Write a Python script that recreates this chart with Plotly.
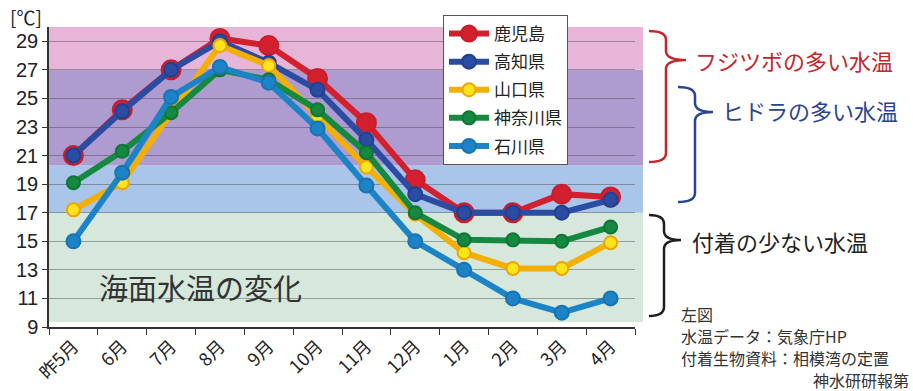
import plotly.graph_objects as go

# Monthly sea-surface temperature (°C), May of last year through April
months = ["昨5月", "6月", "7月", "8月", "9月", "10月", "11月", "12月", "1月", "2月", "3月", "4月"]
kagoshima = [21.0, 24.2, 27.0, 29.2, 28.7, 26.4, 23.3, 19.3, 17.0, 17.0, 18.3, 18.1]
kochi = [21.0, 24.1, 27.0, 29.0, 27.5, 25.6, 22.1, 18.3, 17.0, 17.0, 17.0, 17.9]
yamaguchi = [17.2, 19.1, 24.0, 28.7, 27.3, 23.8, 20.2, 16.9, 14.2, 13.1, 13.1, 14.9]
kanagawa = [19.1, 21.3, 24.0, 27.0, 26.3, 24.2, 21.2, 17.0, 15.1, 15.1, 15.0, 16.0]
ishikawa = [15.0, 19.8, 25.1, 27.2, 26.1, 22.9, 18.9, 15.0, 13.0, 11.0, 10.0, 11.0]

y_ticks = [9, 11, 13, 15, 17, 19, 21, 23, 25, 27, 29]

# Temperature bands (°C): barnacle range, hydroid range, low-fouling range
barnacle_band = (20.3, 30.0)
hydra_band = (17.0, 27.0)
low_band = (9.35, 17.0)

FONT = "Noto Sans CJK JP"
W, H = 913, 391
ML, MR, MT, MB = 49, 278, 27, 64
PW, PH = W - ML - MR, H - MT - MB
Y0, Y1 = 9, 30


def px_x(x):
    return (x - ML) / PW


def px_y(y):
    return (H - MB - y) / PH


def val_y(v):
    return (v - Y0) / (Y1 - Y0)


fig = go.Figure()

series = [
    ("鹿児島", kagoshima, "#D3202F", "#D3202F", "#C81E2C", 19),
    ("高知県", kochi, "#2A4CA3", "#2A4CA3", "#23408F", 14),
    ("山口県", yamaguchi, "#F3B000", "#FFE31C", "#EFA500", 13),
    ("神奈川県", kanagawa, "#14893F", "#14893F", "#107536", 13),
    ("石川県", ishikawa, "#1C83C7", "#1C83C7", "#1874B2", 14),
]
for i, (name, vals, lc, mc, mlc, ms) in enumerate(series):
    fig.add_trace(go.Scatter(
        x=months, y=vals, name=name, mode="lines+markers",
        legendgroup=str(i),
        line=dict(color=lc, width=6),
        marker=dict(color=mc, size=ms, line=dict(color=mlc, width=2)),
    ))

# Coloured temperature bands behind the grid
x_right = px_x(643)
bands = [
    (low_band[0], low_band[1], "#D6E8DC"),
    (hydra_band[0], barnacle_band[0], "#A9C5EA"),
    (barnacle_band[0], hydra_band[1], "#AE9BD0"),
    (hydra_band[1], barnacle_band[1], "#E7B5D8"),
]
shapes = []
for lo, hi, col in bands:
    shapes.append(dict(type="rect", xref="paper", yref="paper",
                       x0=0, x1=x_right, y0=val_y(lo), y1=val_y(hi),
                       fillcolor=col, line=dict(width=0), layer="below"))


def brace(x_end, x_spine, x_tip, y_top, y_tip, y_bot, color):
    r = 9
    pts = [
        ("M", [(x_end, y_top)]),
        ("Q", [(x_spine, y_top), (x_spine, y_top + r)]),
        ("L", [(x_spine, y_tip - r)]),
        ("Q", [(x_spine, y_tip), (x_tip, y_tip)]),
        ("Q", [(x_spine, y_tip), (x_spine, y_tip + r)]),
        ("L", [(x_spine, y_bot - r)]),
        ("Q", [(x_spine, y_bot), (x_end, y_bot)]),
    ]
    path = " ".join(
        cmd + " " + " ".join(f"{px_x(a):.5f},{px_y(b):.5f}" for a, b in p)
        for cmd, p in pts
    )
    return dict(type="path", xref="paper", yref="paper", path=path,
                line=dict(color=color, width=2.5), layer="above")


shapes.append(brace(649, 666, 686, 31, 60, 162, "#C4262E"))
shapes.append(brace(678, 695, 713, 87, 112, 202, "#2A4590"))
shapes.append(brace(649, 664, 681, 215, 240, 316, "#1E1E1E"))

annotations = [
    dict(text="[℃]", x=px_x(26), y=px_y(17), font=dict(size=19, color="#222")),
    dict(text="海面水温の変化", x=px_x(200), y=px_y(287), font=dict(size=29, color="#333")),
    dict(text="フジツボの多い水温", x=px_x(693), y=px_y(60), xanchor="left",
         font=dict(size=22, color="#C4262E")),
    dict(text="ヒドラの多い水温", x=px_x(720), y=px_y(110), xanchor="left",
         font=dict(size=22, color="#2A4590")),
    dict(text="付着の少ない水温", x=px_x(690), y=px_y(241), xanchor="left",
         font=dict(size=22, color="#222")),
    dict(text="左図", x=px_x(679), y=px_y(314), xanchor="left",
         font=dict(size=16, color="#333")),
    dict(text="水温データ：気象庁HP", x=px_x(679), y=px_y(336), xanchor="left",
         font=dict(size=16, color="#333")),
    dict(text="付着生物資料：相模湾の定置", x=px_x(679), y=px_y(358), xanchor="left",
         font=dict(size=16, color="#333")),
    dict(text="神水研研報第", x=px_x(811), y=px_y(380), xanchor="left",
         font=dict(size=16, color="#333")),
]
for a in annotations:
    a.update(xref="paper", yref="paper", showarrow=False,
             xanchor=a.get("xanchor", "center"), yanchor="middle")

fig.update_layout(
    width=W, height=H, autosize=False,
    margin=dict(l=ML, r=MR, t=MT, b=MB, pad=0),
    paper_bgcolor="white", plot_bgcolor="rgba(0,0,0,0)",
    font=dict(family=FONT, color="#222"),
    shapes=shapes, annotations=annotations,
    legend=dict(
        x=px_x(443), y=px_y(15), xanchor="left", yanchor="top",
        bgcolor="white", bordercolor="#555", borderwidth=1,
        font=dict(size=17, color="#222"), itemwidth=40,
        traceorder="grouped", tracegroupgap=3,
    ),
    xaxis=dict(
        type="category", range=[-0.5, 11.5], automargin=False,
        showline=True, linecolor="#333", linewidth=1.5,
        ticks="outside", tickson="boundaries", ticklen=6, tickcolor="#333",
        tickangle=-45, showgrid=False,
        tickfont=dict(size=18, color="#222"),
    ),
    yaxis=dict(
        range=[Y0, Y1], tickvals=y_ticks, automargin=False,
        showline=True, linecolor="#333", linewidth=1.5,
        ticks="outside", ticklen=5, tickcolor="#333",
        showgrid=True, gridcolor="rgba(70,70,70,0.45)", gridwidth=1,
        zeroline=False,
        tickfont=dict(size=20, family="Liberation Sans", color="#222"),
    ),
)

fig.write_html("out.html")
